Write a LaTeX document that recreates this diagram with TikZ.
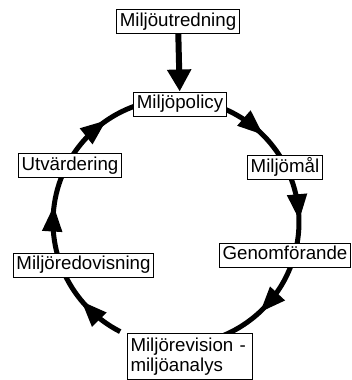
\documentclass[tikz,border=0pt]{standalone}
\usepackage{fontspec}
\setmainfont{Liberation Sans}
\usetikzlibrary{arrows.meta,decorations.markings,calc}
\tikzset{
  box/.style={draw, line width=1pt, fill=white, font=\fontsize{18.7}{20}\selectfont,
    inner xsep=3pt, inner ysep=0pt, text height=16.5pt, text depth=7.5pt},
  cyc/.style={line width=5pt,
    decoration={markings, mark=at position 0.5 with {\arrow[xshift=9pt]{Triangle[length=26pt,width=19pt]}}},
    postaction=decorate},
  mainarrow/.style={line width=6pt, -{Triangle[length=22pt,width=23pt]}}
}
\begin{document}
\begin{tikzpicture}[x=1pt,y=1pt]
\useasboundingbox (0,0) rectangle (352,-380);
\coordinate (C) at (176,-222);
\def\R{123}
% arc end points on the cycle
\foreach \n/\a in {s1/67,s2/22,s3/-19,s4/-117,s5/196,s6/148}{\coordinate (\n) at ($(C)+(\a:\R)$);}
\draw[cyc] (s1) arc[start angle=67, end angle=31, radius=\R];
\draw[cyc] (s2) arc[start angle=22, end angle=-12, radius=\R];
\draw[cyc] (s3) arc[start angle=-19, end angle=-67, radius=\R];
\draw[cyc] (s4) arc[start angle=243, end angle=205, radius=\R];
\draw[cyc] (s5) arc[start angle=196, end angle=157, radius=\R];
\draw[cyc] (s6) arc[start angle=148, end angle=109, radius=\R];
% boxes
\node[box] (utr) at (178,-21.5) {Miljöutredning};
\node[box] (pol) at (180,-104) {Miljöpolicy};
\node[box] (mal) at (285,-167.5) {Miljömål};
\node[box] (gen) at (285,-255) {Genomförande};
\node[box] (red) at (83.5,-265) {Miljöredovisning};
\node[box] (utv) at (70,-165.5) {Utvärdering};
\node[draw, line width=1pt, fill=white, anchor=north west, align=left,
  font=\fontsize{18.7}{20}\selectfont, inner xsep=3pt, inner ysep=4.5pt,
  text width=119pt] (rev) at (127,-333) {Miljörevision -\\miljöanalys};
\draw[mainarrow] (utr) -- (pol);
\end{tikzpicture}
\end{document}
